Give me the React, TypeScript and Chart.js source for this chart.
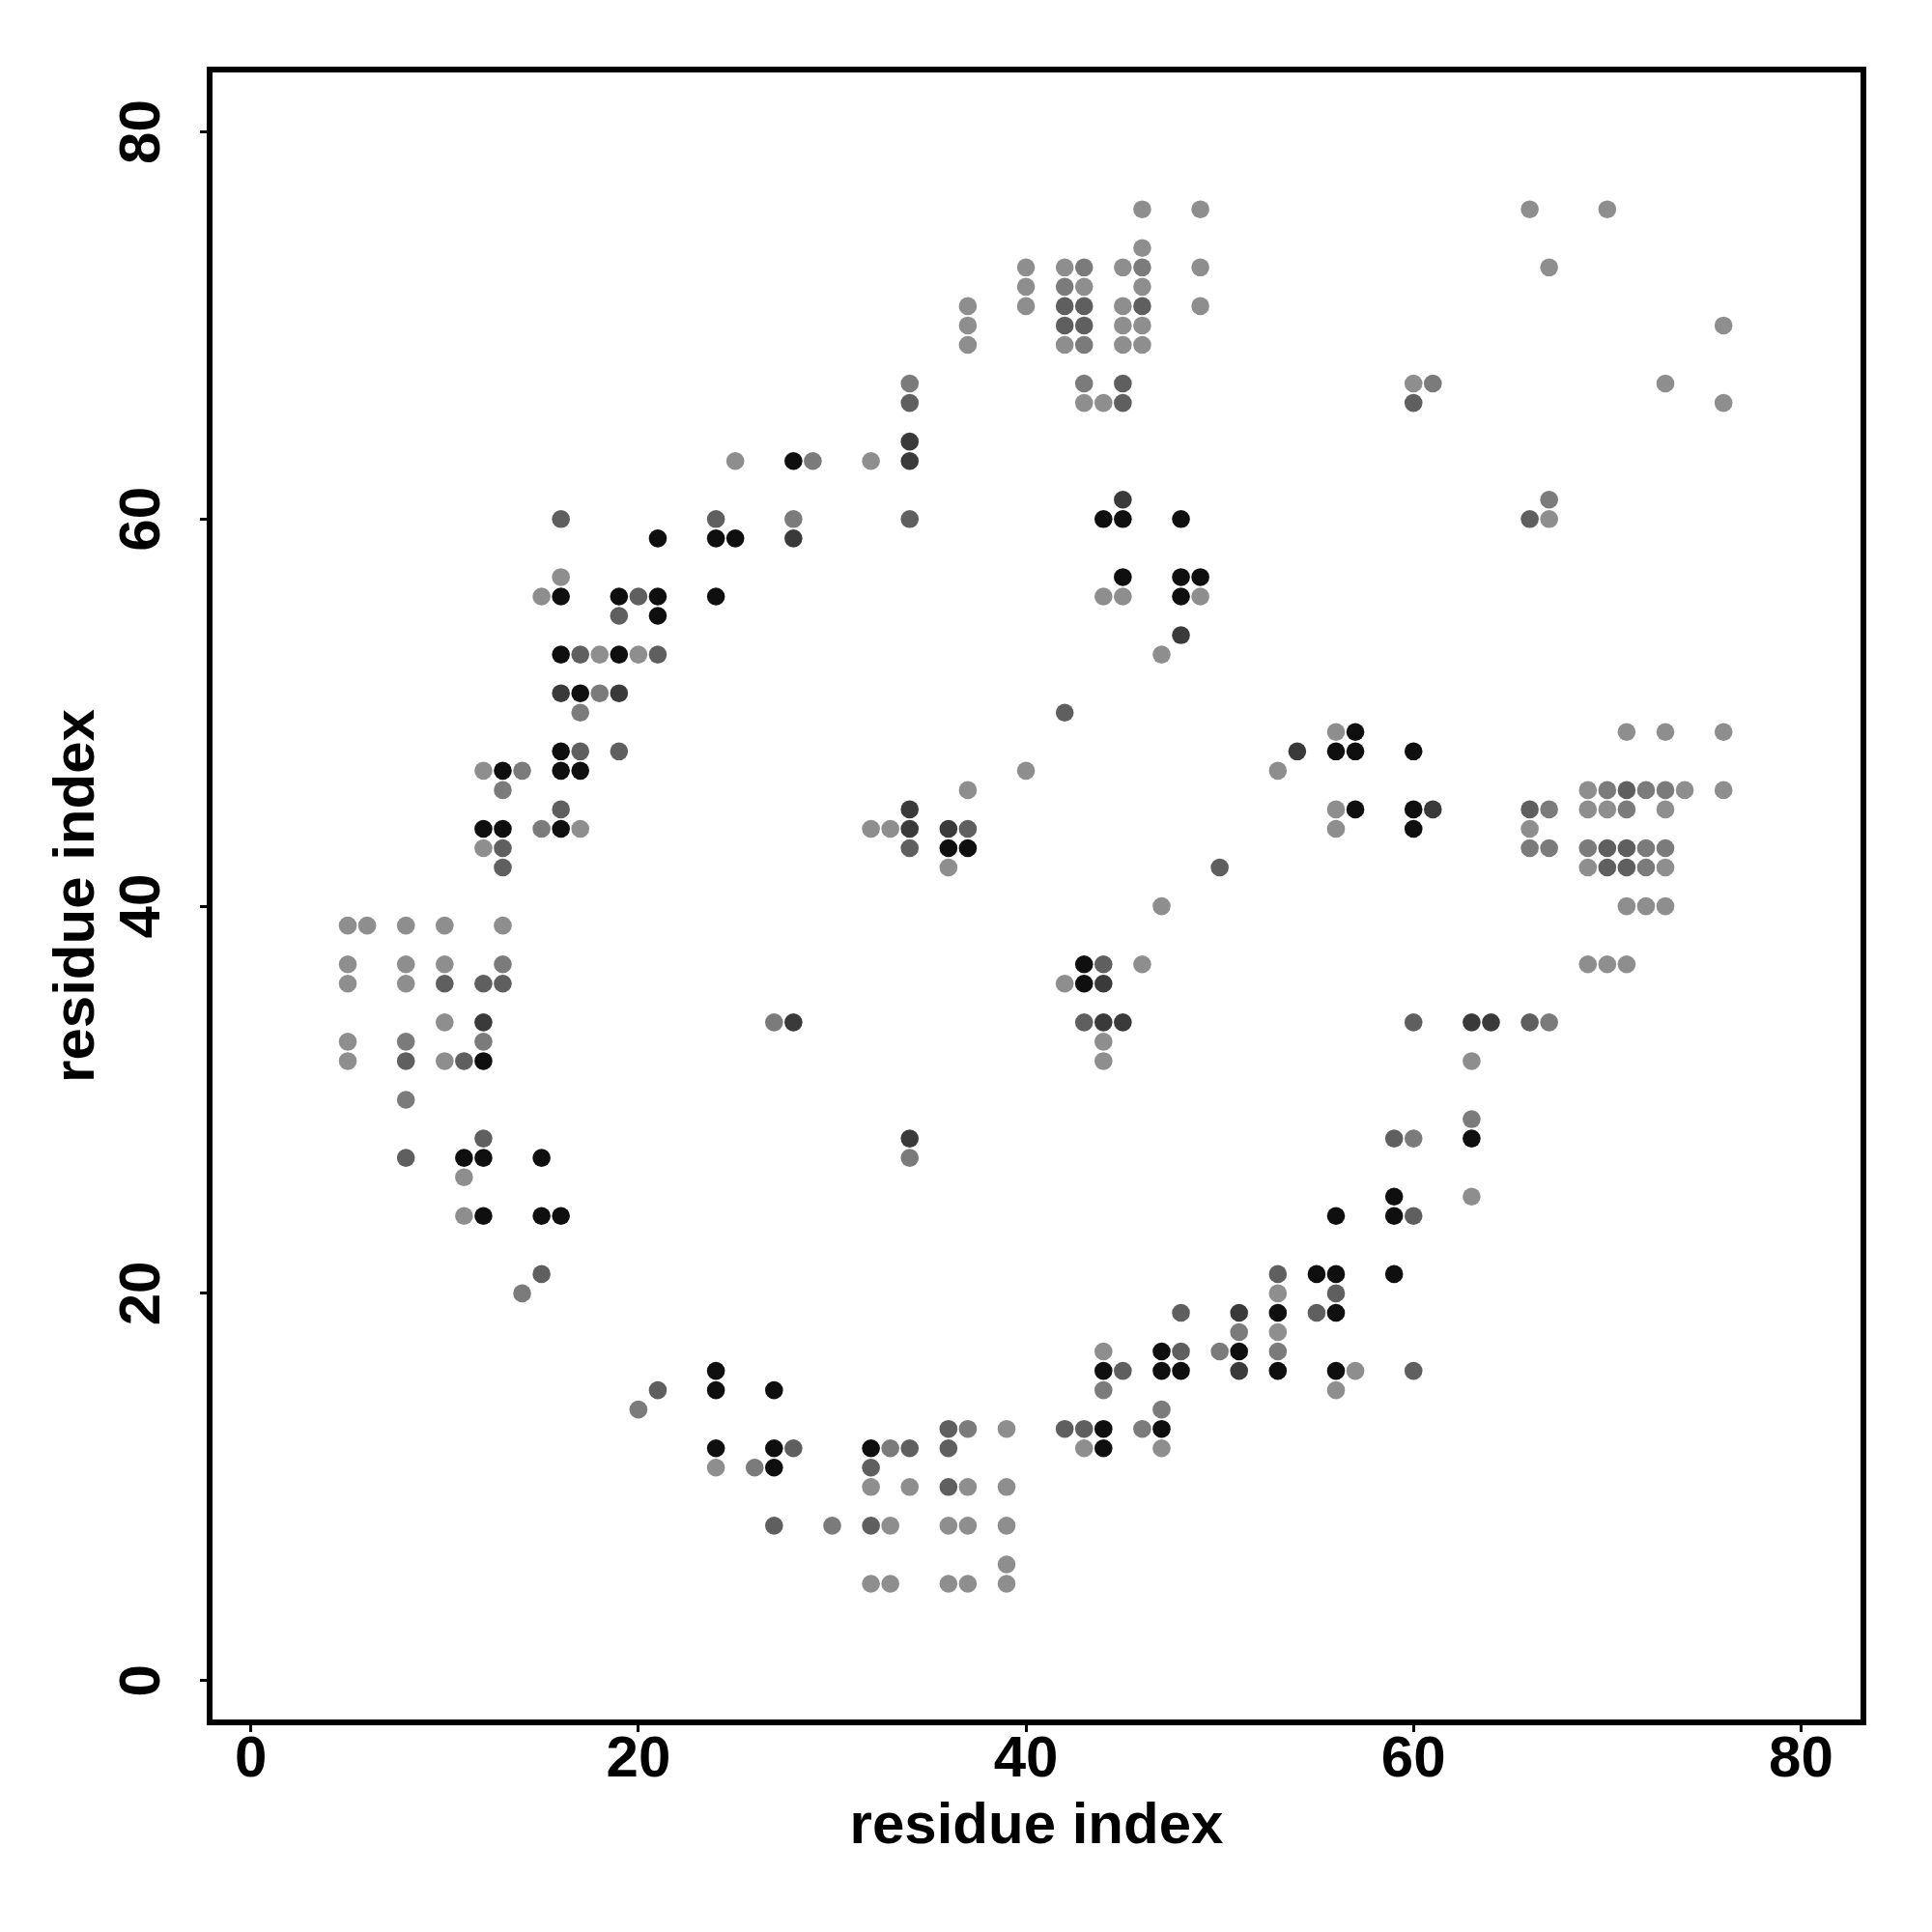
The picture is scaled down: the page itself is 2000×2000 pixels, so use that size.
import React, { useEffect, useRef } from "react";
import { Chart, registerables } from "chart.js";

Chart.register(...registerables);

const tickValues = [0, 20, 40, 60, 80];
const xAxisTitle = "residue index";
const yAxisTitle = "residue index";

// contacts [x, y] grouped by shade
const blackContacts: [number, number][] = [
  [11, 27], [12, 27], [15, 27], [12, 24], [15, 24], [16, 24], [24, 16], [24, 15], [27, 15], [24, 12], [27, 12], [27, 11],
  [12, 44], [13, 44], [16, 44], [13, 47], [16, 47], [17, 47], [16, 48], [17, 51], [19, 53], [16, 53], [12, 32],
  [16, 56], [19, 56], [21, 56], [21, 55], [24, 56], [21, 59], [24, 59], [25, 59], [28, 63],
  [44, 60], [45, 60], [45, 57], [48, 60], [48, 57], [49, 57], [48, 56],
  [36, 43], [37, 43], [43, 37], [43, 36],
  [57, 49], [56, 48], [57, 48], [60, 48], [57, 45], [60, 45], [60, 44],
  [47, 17], [51, 17], [44, 16], [47, 16], [48, 16], [44, 13], [47, 13], [32, 12], [44, 12],
  [63, 28], [59, 25], [56, 24], [59, 24], [55, 21], [56, 21], [59, 21], [53, 19], [56, 19], [53, 16], [56, 16],
];

const darkContacts: [number, number][] = [
  [12, 34], [16, 51], [19, 51], [28, 59], [28, 34], [34, 64], [34, 63], [45, 61], [48, 54], [34, 45], [34, 44],
  [36, 44], [44, 36], [44, 34], [45, 34], [54, 48], [61, 45], [63, 34], [64, 34], [34, 28], [51, 19], [51, 16],
];

const midContacts: [number, number][] = [
  [8, 32], [11, 32], [8, 27], [10, 36], [12, 36], [13, 36], [13, 43], [13, 42], [16, 45], [17, 48], [19, 48], [17, 53],
  [21, 53], [16, 60], [24, 60], [20, 56], [19, 55], [34, 66], [34, 60], [42, 71], [42, 70], [43, 71], [43, 70], [45, 67],
  [45, 66], [46, 71], [66, 60], [60, 66], [34, 43], [37, 44], [42, 50], [43, 34], [44, 37], [50, 42], [71, 46], [66, 45],
  [70, 43], [71, 43], [70, 42], [71, 42], [60, 34], [66, 34], [12, 28], [15, 21], [21, 15], [28, 12], [27, 8], [48, 19],
  [48, 17], [45, 16], [36, 13], [42, 13], [43, 13], [34, 12], [36, 12], [32, 11], [36, 10], [32, 8], [59, 28], [60, 24],
  [53, 21], [56, 20], [55, 19], [60, 16],
];

const lightMidContacts: [number, number][] = [
  [8, 33], [12, 33], [8, 30], [13, 37], [13, 46], [14, 47], [15, 44], [17, 50], [18, 51], [27, 34], [28, 60], [29, 63],
  [34, 67], [42, 72], [43, 73], [43, 69], [43, 67], [46, 73], [67, 61], [61, 67], [70, 46], [72, 46], [73, 46], [67, 45],
  [71, 45], [66, 43], [67, 43], [69, 43], [72, 43], [73, 43], [72, 42], [67, 34], [63, 29], [14, 20], [20, 14], [26, 11],
  [34, 27], [51, 18], [50, 17], [44, 15], [47, 14], [37, 13], [46, 13], [33, 12], [30, 8], [60, 28], [53, 17],
];

const lightContacts: [number, number][] = [
  [5, 39], [5, 37], [5, 36], [5, 33], [5, 32], [6, 39], [8, 39], [8, 37], [8, 36], [10, 39], [10, 37], [10, 34], [10, 32],
  [11, 26], [11, 24], [12, 47], [12, 43], [13, 39], [17, 44], [15, 56], [16, 57], [18, 53], [20, 53], [25, 63], [32, 63],
  [24, 11],
  [37, 71], [37, 70], [37, 69], [40, 73], [40, 72], [40, 71], [42, 73], [42, 69], [43, 72], [43, 66], [44, 66], [44, 56],
  [45, 73], [45, 71], [45, 70], [45, 69], [45, 56], [46, 76], [46, 74], [46, 72], [46, 70], [46, 69], [47, 53], [49, 76],
  [49, 73], [49, 71], [49, 56],
  [66, 76], [67, 73], [67, 60], [70, 76], [73, 67], [76, 70], [76, 66], [60, 67],
  [32, 44], [33, 44], [36, 42], [37, 46], [40, 47], [42, 36], [44, 33], [44, 32], [46, 37], [47, 40],
  [56, 49], [71, 49], [73, 49], [76, 49], [53, 47], [69, 46], [74, 46], [76, 46], [56, 45], [69, 45], [70, 45], [73, 45],
  [56, 44], [66, 44], [69, 42], [73, 42], [71, 40], [72, 40], [73, 40], [69, 37], [70, 37], [71, 37], [63, 32],
  [44, 17], [39, 13], [43, 12], [47, 12], [32, 10], [34, 10], [37, 10], [39, 10], [33, 8], [36, 8], [37, 8], [39, 8],
  [39, 6], [32, 5], [33, 5], [36, 5], [37, 5], [39, 5],
  [63, 25], [53, 20], [53, 18], [57, 16], [56, 15],
];

const shadeGroups: { name: string; color: string; points: [number, number][] }[] = [
  { name: "light", color: "#8e8e8e", points: lightContacts },
  { name: "lightMid", color: "#7b7b7b", points: lightMidContacts },
  { name: "mid", color: "#5f5f5f", points: midContacts },
  { name: "dark", color: "#3a3a3a", points: darkContacts },
  { name: "black", color: "#0f0f0f", points: blackContacts },
];

const FONT_FAMILY = '"Liberation Sans", Arial, Helvetica, sans-serif';

export default function App() {
  const canvasRef = useRef<HTMLCanvasElement | null>(null);

  useEffect(() => {
    const canvas = canvasRef.current;
    if (!canvas) return;

    const boxPlugin = {
      id: "plotBox",
      afterDatasetsDraw(chart: any) {
        const { ctx, chartArea } = chart;
        ctx.save();
        ctx.strokeStyle = "#000";
        ctx.lineWidth = 6;
        ctx.strokeRect(chartArea.left, chartArea.top, chartArea.right - chartArea.left, chartArea.bottom - chartArea.top);
        ctx.restore();
      },
    };

    const setTicks = (scale: any) => {
      scale.ticks = tickValues.map((v) => ({ value: v }));
    };

    const chart = new Chart(canvas, {
      type: "scatter",
      data: {
        datasets: shadeGroups.map((g) => ({
          label: g.name,
          data: g.points.map(([x, y]) => ({ x, y })),
          backgroundColor: g.color,
          borderColor: g.color,
          borderWidth: 0,
          pointRadius: 9.3,
          pointHoverRadius: 9.3,
          pointBorderWidth: 0,
        })),
      },
      options: {
        responsive: false,
        animation: false,
        devicePixelRatio: 1,
        layout: { padding: { top: 72, right: 71, left: 0, bottom: 0 } },
        plugins: {
          legend: { display: false },
          tooltip: { enabled: false },
        },
        scales: {
          x: {
            type: "linear",
            min: -2.13,
            max: 83.22,
            afterBuildTicks: setTicks,
            afterFit: (s: any) => {
              s.height = 217;
            },
            grid: {
              drawOnChartArea: false,
              drawTicks: true,
              tickLength: 10,
              tickWidth: 3,
              tickColor: "#000",
            },
            border: { display: false },
            ticks: {
              color: "#000",
              font: { family: FONT_FAMILY, size: 60, weight: "bold", lineHeight: 1 },
              padding: -1,
              maxRotation: 0,
              minRotation: 0,
            },
            title: {
              display: true,
              text: xAxisTitle,
              color: "#000",
              font: { family: FONT_FAMILY, size: 60, weight: "bold", lineHeight: 1.2 },
              padding: { top: 0, bottom: 73 },
            },
          },
          y: {
            type: "linear",
            min: -2.16,
            max: 83.22,
            afterBuildTicks: setTicks,
            afterFit: (s: any) => {
              s.width = 217;
            },
            grid: {
              drawOnChartArea: false,
              drawTicks: true,
              tickLength: 10,
              tickWidth: 3,
              tickColor: "#000",
            },
            border: { display: false },
            ticks: {
              color: "#000",
              font: { family: FONT_FAMILY, size: 60, weight: "bold", lineHeight: 1 },
              padding: 25,
              minRotation: 90,
              maxRotation: 90,
              crossAlign: "center",
            },
            title: {
              display: true,
              text: yAxisTitle,
              color: "#000",
              font: { family: FONT_FAMILY, size: 60, weight: "bold", lineHeight: 1.2 },
              padding: { top: 44, bottom: 0 },
            },
          },
        },
      },
      plugins: [boxPlugin],
    } as any);

    return () => chart.destroy();
  }, []);

  return (
    <div style={{ position: "absolute", left: 0, top: 0, width: 2000, height: 2000, background: "#fff" }}>
      <canvas ref={canvasRef} width={2000} height={2000} style={{ width: 2000, height: 2000, display: "block" }} />
    </div>
  );
}
